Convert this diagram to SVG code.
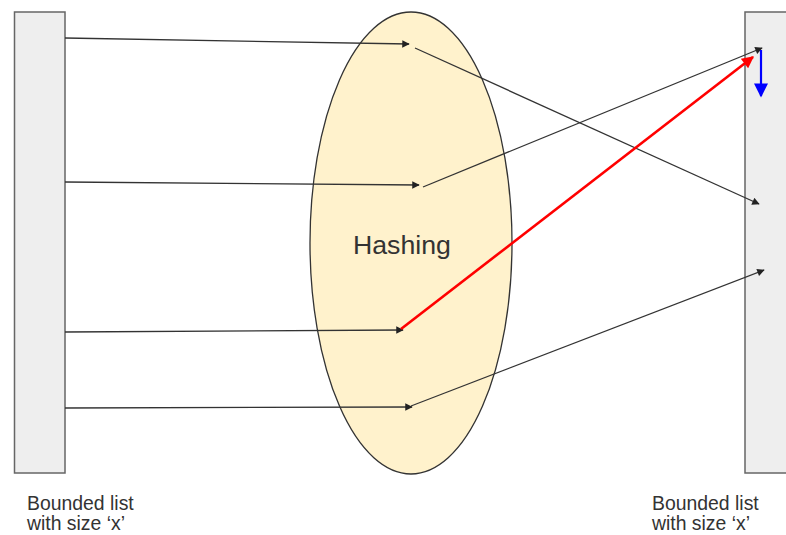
<svg xmlns="http://www.w3.org/2000/svg" width="786" height="535" viewBox="0 0 786 535">
  <style>
    .list { fill: #eeeeee; stroke: #666666; stroke-width: 1.5; }
    .conn { fill: none; stroke: #333333; stroke-width: 1.3; }
    .hot { fill: none; stroke: #ff0000; stroke-width: 2.6; }
    .move { fill: none; stroke: #0000ff; stroke-width: 2.2; }
    .label { font-family: "Liberation Sans", Arial, sans-serif; font-size: 19.4px; fill: #333333; }
    .title { font-family: "Liberation Sans", Arial, sans-serif; font-size: 26.7px; fill: #333333; }
  </style>
  <defs>
    <marker id="arrowBlack" viewBox="0 0 10 10" refX="9" refY="5" markerWidth="9" markerHeight="7.5" markerUnits="userSpaceOnUse" orient="auto">
      <path d="M0,0 L10,5 L0,10 z" fill="#222222"/>
    </marker>
    <marker id="arrowRed" viewBox="0 0 10 10" refX="9" refY="5" markerWidth="14" markerHeight="12" markerUnits="userSpaceOnUse" orient="auto">
      <path d="M0,0 L10,5 L0,10 z" fill="#ff0000"/>
    </marker>
    <marker id="arrowBlue" viewBox="0 0 10 10" refX="9" refY="5" markerWidth="17" markerHeight="14" markerUnits="userSpaceOnUse" orient="auto">
      <path d="M0,0 L10,5 L0,10 z" fill="#0000ff"/>
    </marker>
  </defs>

  <g id="list-left">
    <rect class="list" x="14.5" y="12" width="50.5" height="461"/>
    <text class="label" x="27" y="510">Bounded list</text>
    <text class="label" x="27" y="530">with size ‘x’</text>
  </g>

  <g id="list-right">
    <rect class="list" x="745" y="12" width="50" height="461"/>
    <text class="label" x="652" y="510">Bounded list</text>
    <text class="label" x="652" y="530">with size ‘x’</text>
  </g>

  <g id="hashing">
    <ellipse cx="411" cy="243" rx="101" ry="231" fill="#fff2cc" stroke="#333333" stroke-width="1.3"/>
    <text class="title" x="353" y="254">Hashing</text>
  </g>

  <g id="connectors">
    <!-- inputs into the hash function -->
    <line class="conn" x1="65" y1="38" x2="409" y2="44" marker-end="url(#arrowBlack)"/>
    <line class="conn" x1="65" y1="182" x2="419" y2="185" marker-end="url(#arrowBlack)"/>
    <line class="conn" x1="65" y1="332" x2="403" y2="330" marker-end="url(#arrowBlack)"/>
    <line class="conn" x1="65" y1="408" x2="412" y2="407" marker-end="url(#arrowBlack)"/>
    <!-- hashed outputs into the target list -->
    <line class="conn" x1="415" y1="48" x2="759" y2="204" marker-end="url(#arrowBlack)"/>
    <line class="conn" x1="423" y1="187" x2="762" y2="48" marker-end="url(#arrowBlack)"/>
    <line class="conn" x1="411" y1="406" x2="764" y2="270" marker-end="url(#arrowBlack)"/>
    <!-- collision -->
    <line class="hot" x1="401" y1="329" x2="753" y2="57" marker-end="url(#arrowRed)"/>
    <line class="move" x1="761" y1="50" x2="761" y2="96" marker-end="url(#arrowBlue)"/>
  </g>
</svg>
